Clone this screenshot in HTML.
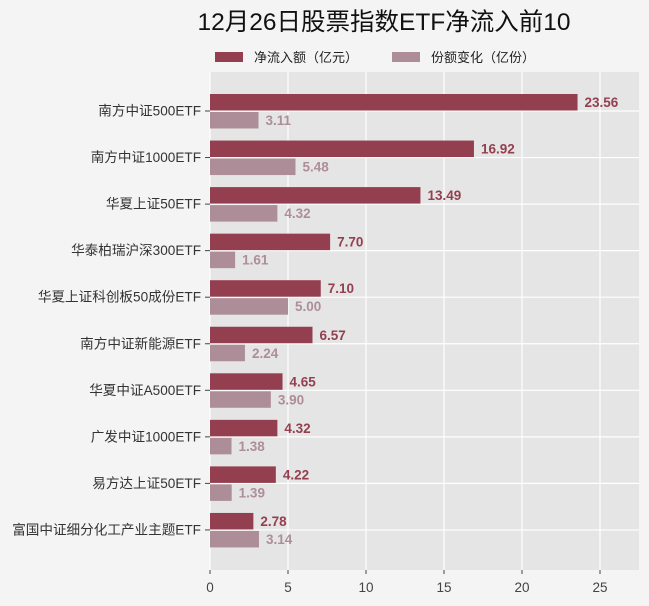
<!DOCTYPE html>
<html><head><meta charset="utf-8"><style>
body{margin:0;background:#f4f4f4;}
svg{display:block;font-family:"Liberation Sans","Noto Sans CJK SC",sans-serif;}
</style></head><body>
<svg width="649" height="606" xmlns="http://www.w3.org/2000/svg">
<rect width="649" height="606" fill="#f4f4f4"/>
<text x="384" y="30" font-size="24.5" text-anchor="middle" fill="#111">12月26日股票指数ETF净流入前10</text>
<rect x="215" y="52" width="28" height="10" fill="#943f4f"/>
<text x="254" y="62" font-size="13" fill="#222">净流入额（亿元）</text>
<rect x="392" y="52" width="28" height="10" fill="#ad8e98"/>
<text x="431" y="62" font-size="13" fill="#222">份额变化（亿份）</text>
<rect x="210" y="72" width="429" height="498" fill="#e5e5e5"/>
</svg>
<script>
const ns="http://www.w3.org/2000/svg",svg=document.querySelector('svg');
function el(t,a,txt){const e=document.createElementNS(ns,t);for(const k in a)e.setAttribute(k,a[k]);if(txt!=null)e.textContent=txt;svg.appendChild(e);return e;}
const x0=210,s=15.6;
for(let v=0;v<=25;v+=5){const x=x0+v*s;el('line',{x1:x,x2:x,y1:72,y2:570,stroke:'#fff','stroke-width':1.2});el('line',{x1:x,x2:x,y1:570,y2:574,stroke:'#444'});el('text',{x:x,y:592,'font-size':13.5,'text-anchor':'middle',fill:'#444'},v);}
const d=[["南方中证500ETF",23.56,3.11],["南方中证1000ETF",16.92,5.48],["华夏上证50ETF",13.49,4.32],["华泰柏瑞沪深300ETF",7.70,1.61],["华夏上证科创板50成份ETF",7.10,5.00],["南方中证新能源ETF",6.57,2.24],["华夏中证A500ETF",4.65,3.90],["广发中证1000ETF",4.32,1.38],["易方达上证50ETF",4.22,1.39],["富国中证细分化工产业主题ETF",2.78,3.14]];
d.forEach((r,i)=>{const c=111+i*46.55;
el('line',{x1:210,x2:639,y1:c,y2:c,stroke:'#fff','stroke-width':1.2});
el('line',{x1:205,x2:210,y1:c,y2:c,stroke:'#444'});
el('text',{x:201,y:c+4.5,'font-size':13.6,'text-anchor':'end',fill:'#333'},r[0]);
el('rect',{x:x0,y:c-17,width:r[1]*s,height:16.5,fill:'#943f4f'});
el('rect',{x:x0,y:c+1,width:r[2]*s,height:16.5,fill:'#ad8e98'});
el('text',{x:x0+r[1]*s+7,y:c-4,'font-size':13.5,'font-weight':'bold',fill:'#943f4f'},r[1].toFixed(2));
el('text',{x:x0+r[2]*s+7,y:c+14,'font-size':13.5,'font-weight':'bold',fill:'#ad8e98'},r[2].toFixed(2));
});
</script>
</body></html>
